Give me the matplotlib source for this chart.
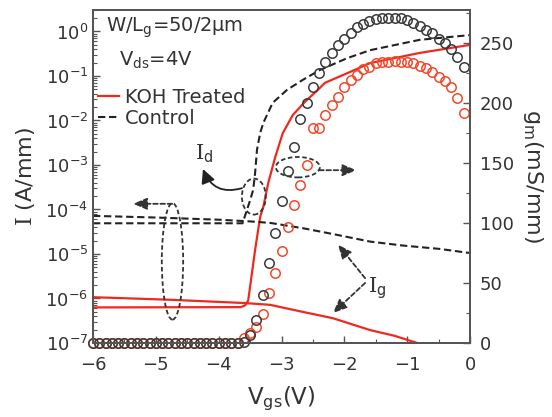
import numpy as np
import matplotlib
matplotlib.use('Agg')
import matplotlib.pyplot as plt
from matplotlib.patches import Ellipse

# ---- data ----
# drain current, control (A/mm)
vg_id_ctrl = [-6.0, -3.62, -3.5, -3.45, -3.42, -3.39, -3.34, -3.29, -3.14,
              -2.91, -2.66, -2.39, -1.96, -1.59, -0.8, 0.0]
id_ctrl = [4.9e-5, 4.9e-5, 1.6e-4, 2.8e-4, 6.6e-4, 2.2e-3, 5.2e-3, 8.8e-3, 0.025,
           0.049, 0.082, 0.136, 0.25, 0.38, 0.65, 0.83]

# drain current, KOH treated
vg_id_koh = [-6.0, -3.65, -3.58, -3.53, -3.42, -3.34, -3.29, -3.21, -3.10,
             -2.98, -2.82, -2.63, -2.42, -2.31, -1.91, -1.59, -0.8, 0.0]
id_koh = [6.3e-7, 6.4e-7, 7.0e-7, 9.0e-7, 1.24e-5, 6.8e-5, 1.14e-4, 4.0e-4, 1.5e-3,
          5.2e-3, 1.33e-2, 2.6e-2, 4.9e-2, 7.0e-2, 0.123, 0.195, 0.33, 0.50]

# gate current, control
vg_ig_ctrl = [-6.0, -5.0, -4.0, -3.5, -3.18, -2.66, -2.12, -1.59, -1.07, -0.48, 0.0]
ig_ctrl = [7.2e-5, 6.6e-5, 5.9e-5, 5.4e-5, 5.0e-5, 3.8e-5, 2.7e-5, 1.9e-5, 1.55e-5,
           1.3e-5, 1.05e-5]

# gate current, KOH treated
vg_ig_koh = [-6.0, -4.8, -3.58, -3.18, -2.66, -2.18, -1.59, -1.2, -0.84, -0.5]
ig_koh = [1.07e-6, 9.4e-7, 7.9e-7, 7.2e-7, 5.0e-7, 3.6e-7, 1.95e-7, 1.45e-7, 1.0e-7, 7e-8]

# transconductance (mS/mm), sweep -6.0 ... -0.1 V in 0.1 V steps
vg_gm = np.round(np.arange(-6.0, -0.05, 0.1), 1)
gm_ctrl = [0, 0, 0, 0, 0, 0, 0, 0, 0, 0, 0, 0, 0, 0, 0, 0, 0, 0, 0, 0, 0, 0, 0, 0,
           1, 7, 19, 40, 67, 92,
           118, 143, 163, 187, 200, 213, 225, 234, 242, 248,
           253, 258, 263, 266, 268, 270, 271, 271, 271, 271,
           269, 267, 264, 261, 258, 253, 250, 245, 238, 230]
gm_koh = [0, 0, 0, 0, 0, 0, 0, 0, 0, 0, 0, 0, 0, 0, 0, 0, 0, 0, 0, 0, 0, 0, 0, 0,
          4, 8, 13, 24, 42, 58,
          77, 97, 115, 132, 148, 179, 179, 190, 198, 205,
          213, 219, 223, 228, 230, 233, 234, 234, 235, 234,
          234, 233, 231, 229, 226, 222, 218, 213, 204, 192]

RED = '#ee2a1e'
CIRC_RED = '#f04a2a'
DARK = '#222222'
GRAY = '#555555'
TXT = '#333333'
DASH = (3.5, 1.8)

plt.rcParams['font.family'] = 'DejaVu Sans'
plt.rcParams['font.size'] = 12

fig = plt.figure(figsize=(5.52, 4.17), dpi=100)
ax = fig.add_axes([93 / 552, 74 / 417, 377 / 552, 333 / 417])
ax2 = ax.twinx()

# current curves (log axis)
ax.plot(vg_ig_koh, ig_koh, color=RED, lw=1.6)
ax.plot(vg_id_koh, id_koh, color=RED, lw=1.6, label='KOH Treated')
ax.plot(vg_ig_ctrl, ig_ctrl, color=DARK, lw=1.5, dashes=DASH)
ax.plot(vg_id_ctrl, id_ctrl, color=DARK, lw=1.5, dashes=DASH, label='Control')
ax.set_yscale('log')
ax.set_ylim(1e-7, 10 ** 0.483)
ax.set_xlim(-6, 0)
ax.set_xticks(range(-6, 1))
ax.set_xticks(np.arange(-6, 0.01, 0.5), minor=True)

# transconductance circles (linear axis)
ax2.plot(vg_gm, gm_koh, 'o', ms=6.8, mfc='none', mec=CIRC_RED, mew=1.1, clip_on=False)
ax2.plot(vg_gm, gm_ctrl, 'o', ms=6.8, mfc='none', mec='#3a3a3a', mew=1.1, clip_on=False)
ax2.set_ylim(0, 277.5)
ax2.set_yticks(range(0, 251, 50))
ax2.set_yticks(range(0, 276, 25), minor=True)

for a in (ax, ax2):
    for sp in a.spines.values():
        sp.set_color(GRAY)
        sp.set_linewidth(1.4)
    a.tick_params(which='both', direction='in', color=GRAY, labelsize=13,
                  labelcolor=TXT)
    a.tick_params(which='major', length=5, width=1.0)
    a.tick_params(which='minor', length=3, width=0.8)
ax.tick_params(axis='x', pad=9)
ax.tick_params(axis='y', which='both', right=False)
ax2.tick_params(axis='y', which='both', left=False, pad=7)

ax.set_ylabel(r'$\mathrm{I}$ (A/mm)', fontsize=16, color=TXT,
              math_fontfamily='dejavuserif', labelpad=6)
ax.set_xlabel(r'V$_{\rm gs}$(V)', fontsize=16.5, color=TXT, labelpad=8)
ax2.set_ylabel(r'g$_{\rm m}$(mS/mm)', fontsize=16, color=TXT,
               rotation=270, labelpad=22)

leg = ax.legend(loc='upper left', bbox_to_anchor=(0.012, 0.765), frameon=False,
                fontsize=14, handlelength=1.1, handletextpad=0.3,
                labelspacing=0.1, borderpad=0, borderaxespad=0)
for t in leg.get_texts():
    t.set_color(TXT)

ax.text(0.035, 0.934, r'W/L$_{\rm g}$=50/2μm', transform=ax.transAxes,
        fontsize=14, color=TXT, va='baseline')
ax.text(0.068, 0.832, r'V$_{\rm ds}$=4V', transform=ax.transAxes,
        fontsize=14, color=TXT, va='baseline')

# annotations (drawn on the gm axis)
ell_kw = dict(fill=False, ls=(0, (2.5, 1.5)), lw=1.3, ec=TXT)
ax2.add_patch(Ellipse((-4.735, 68), 0.34, 97, **ell_kw))
ax2.add_patch(Ellipse((-2.74, 146.5), 0.70, 17, **ell_kw))
ax2.add_patch(Ellipse((-3.44, 122), 0.38, 30, **ell_kw))

dash_arrow = dict(arrowstyle='-|>,head_length=0.7,head_width=0.3', color=TXT,
                  lw=1.3, ls=(0, (2.5, 1.5)), mutation_scale=12, shrinkA=0, shrinkB=0)
ax2.annotate('', xy=(-5.36, 116), xytext=(-4.74, 116), arrowprops=dash_arrow)
ax2.annotate('', xy=(-1.81, 144), xytext=(-2.40, 144), arrowprops=dash_arrow)
ax2.annotate('', xy=(-2.10, 82), xytext=(-1.67, 54), arrowprops=dash_arrow)
ax2.annotate('', xy=(-2.18, 25), xytext=(-1.67, 50), arrowprops=dash_arrow)

ax2.annotate('', xy=(-4.25, 145), xytext=(-3.63, 129),
             arrowprops=dict(arrowstyle='-|>,head_length=0.7,head_width=0.35',
                             color=DARK, lw=1.3, mutation_scale=12,
                             connectionstyle='arc3,rad=-0.45', shrinkA=0, shrinkB=0))

ax2.text(-4.38, 158, r'$\mathrm{I}_\mathsf{d}$', fontsize=15, color=TXT,
         math_fontfamily='dejavuserif', va='center', ha='left')
ax2.text(-1.62, 46, r'$\mathrm{I}_\mathsf{g}$', fontsize=15, color=TXT,
         math_fontfamily='dejavuserif', va='center', ha='left')

fig.savefig('out.png', dpi=100)
